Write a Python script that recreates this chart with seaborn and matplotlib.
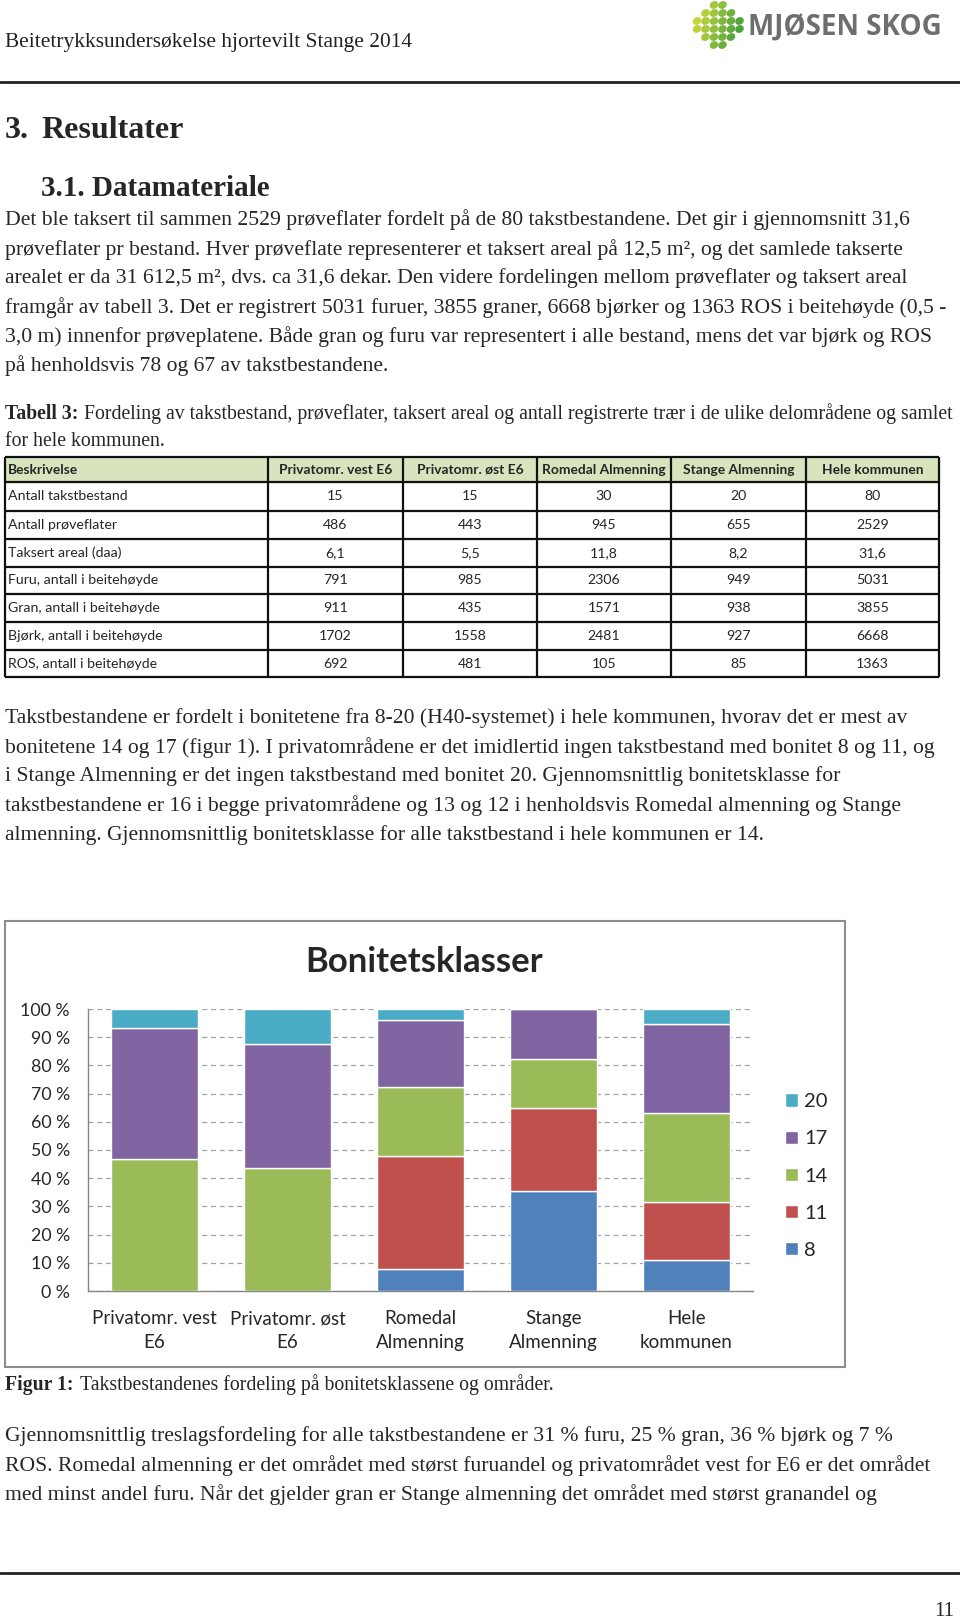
import matplotlib
matplotlib.use("Agg")
import matplotlib.pyplot as plt
import seaborn as sns
import numpy as np
from matplotlib.patches import Rectangle, Ellipse
from matplotlib.colors import to_rgb

# --- Figur 1: andel takstbestand per bonitetsklasse (%) ---
areas = ["Privatomr. vest\nE6", "Privatomr. øst\nE6", "Romedal\nAlmenning",
         "Stange\nAlmenning", "Hele\nkommunen"]
bonitet_classes = ["8", "11", "14", "17", "20"]
share_8 = [0, 0, 7.9, 35.3, 10.9]
share_11 = [0, 0, 40.0, 29.7, 20.5]
share_14 = [46.7, 43.7, 24.3, 17.4, 31.6]
share_17 = [46.6, 43.9, 23.8, 17.6, 31.7]
share_20 = [6.7, 12.4, 4.0, 0, 5.3]
class_colors = ["#4f81bd", "#c0504d", "#9bbb59", "#8064a2", "#4bacc6"]

# --- Tabell 3 ---
table_header = ["Beskrivelse", "Privatomr. vest E6", "Privatomr. øst E6",
                "Romedal Almenning", "Stange Almenning", "Hele kommunen"]
row_names = ["Antall takstbestand", "Antall prøveflater", "Taksert areal (daa)",
             "Furu, antall i beitehøyde", "Gran, antall i beitehøyde",
             "Bjørk, antall i beitehøyde", "ROS, antall i beitehøyde"]
takstbestand = ["15", "15", "30", "20", "80"]
proveflater = ["486", "443", "945", "655", "2529"]
areal_daa = ["6,1", "5,5", "11,8", "8,2", "31,6"]
furu = ["791", "985", "2306", "949", "5031"]
gran = ["911", "435", "1571", "938", "3855"]
bjork = ["1702", "1558", "2481", "927", "6668"]
ros = ["692", "481", "105", "85", "1363"]

# --- page text ---
header_text = "Beitetrykksundersøkelse hjortevilt Stange 2014"
para1 = [
    "Det ble taksert til sammen 2529 prøveflater fordelt på de 80 takstbestandene. Det gir i gjennomsnitt 31,6",
    "prøveflater pr bestand. Hver prøveflate representerer et taksert areal på 12,5 m², og det samlede takserte",
    "arealet er da 31 612,5 m², dvs. ca 31,6 dekar. Den videre fordelingen mellom prøveflater og taksert areal",
    "framgår av tabell 3. Det er registrert 5031 furuer, 3855 graner, 6668 bjørker og 1363 ROS i beitehøyde (0,5 -",
    "3,0 m) innenfor prøveplatene. Både gran og furu var representert i alle bestand, mens det var bjørk og ROS",
    "på henholdsvis 78 og 67 av takstbestandene.",
]
table_caption = ["Fordeling av takstbestand, prøveflater, taksert areal og antall registrerte trær i de ulike delområdene og samlet",
                 "for hele kommunen."]
para2 = [
    "Takstbestandene er fordelt i bonitetene fra 8-20 (H40-systemet) i hele kommunen, hvorav det er mest av",
    "bonitetene 14 og 17 (figur 1). I privatområdene er det imidlertid ingen takstbestand med bonitet 8 og 11, og",
    "i Stange Almenning er det ingen takstbestand med bonitet 20. Gjennomsnittlig bonitetsklasse for",
    "takstbestandene er 16 i begge privatområdene og 13 og 12 i henholdsvis Romedal almenning og Stange",
    "almenning. Gjennomsnittlig bonitetsklasse for alle takstbestand i hele kommunen er 14.",
]
para3 = [
    "Gjennomsnittlig treslagsfordeling for alle takstbestandene er 31 % furu, 25 % gran, 36 % bjørk og 7 %",
    "ROS. Romedal almenning er det området med størst furuandel og privatområdet vest for E6 er det området",
    "med minst andel furu. Når det gjelder gran er Stange almenning det området med størst granandel og",
]

sns.set_style("white")
plt.rcParams['font.family'] = ['Lato', 'DejaVu Sans']

W, H = 960, 1622
fig = plt.figure(figsize=(W / 100, H / 100), dpi=100)
fig.patch.set_facecolor("white")
renderer = fig.canvas.get_renderer()

# page layer in pixel coordinates
page = fig.add_axes([0, 0, 1, 1])
page.set_xlim(0, W)
page.set_ylim(H, 0)
page.set_axis_off()

serif = ['Liberation Serif', 'DejaVu Serif']
body_size = 15.6
caption_size = 14.2


def bold_lead(y, lead, rest, size):
    t = page.text(5, y, lead, family=serif, fontweight="bold", fontsize=size, va="center")
    x_end = t.get_window_extent(renderer).x1
    page.text(x_end + 6, y, rest, family=serif, fontsize=size, va="center")


page.text(5, 43, header_text, family=serif, fontsize=15.4, va="center", color="#222222")
page.plot([0, W], [82, 82], color="#222222", lw=2)

# logo
logo_green_a = np.array(to_rgb("#d2dc3a"))
logo_green_b = np.array(to_rgb("#3e9a3c"))
for i in range(6):
    for j in range(6):
        px = 697 + i * 8.5
        py = 5 + j * 8.0
        if (px - 718) ** 2 + (py - 25) ** 2 > 23 ** 2:
            continue
        t = min(1, max(0, (i + 0.3 * j) / 6.5))
        page.add_patch(Ellipse((px, py), 7.5, 6, angle=-30,
                               color=logo_green_a * (1 - t) + logo_green_b * t))
page.text(748, 28, "MJØSEN SKOG", family=['Open Sans', 'DejaVu Sans'], fontweight="bold",
          fontsize=20, color="#6d6e71", va="center", ha="left")

page.text(5, 131, "3.", family=serif, fontweight="bold", fontsize=23, va="center")
page.text(41, 131, "Resultater", family=serif, fontweight="bold", fontsize=23, va="center")
page.text(41, 188, "3.1. Datamateriale", family=serif, fontweight="bold", fontsize=21, va="center")

for k, line in enumerate(para1):
    page.text(5, 220 + k * 29.2, line, family=serif, fontsize=body_size, va="center")

bold_lead(414, "Tabell 3:", table_caption[0], caption_size)
page.text(5, 442, table_caption[1], family=serif, fontsize=caption_size, va="center")

# table 3
col_edges = [5, 268, 403, 537, 671, 806, 939]
row_edges = [457, 482, 511, 539, 567, 594, 622, 650, 677]
page.add_patch(Rectangle((col_edges[0], row_edges[0]), col_edges[-1] - col_edges[0],
                         row_edges[1] - row_edges[0], color="#d7e4bd", zorder=0))
for c, name in enumerate(table_header):
    cx = col_edges[0] + 3 if c == 0 else (col_edges[c] + col_edges[c + 1]) / 2
    page.text(cx, (row_edges[0] + row_edges[1]) / 2, name, fontsize=9.9, fontweight="bold",
              ha="left" if c == 0 else "center", va="center")
table_rows = [takstbestand, proveflater, areal_daa, furu, gran, bjork, ros]
for r, (name, vals) in enumerate(zip(row_names, table_rows)):
    cy = (row_edges[r + 1] + row_edges[r + 2]) / 2
    page.text(col_edges[0] + 3, cy, name, fontsize=10.2, va="center")
    for c, v in enumerate(vals):
        page.text((col_edges[c + 1] + col_edges[c + 2]) / 2, cy, v, fontsize=10.2,
                  ha="center", va="center")
page.hlines(row_edges, col_edges[0], col_edges[-1], color="#111111", lw=1.6)
page.vlines(col_edges, row_edges[0], row_edges[-1], color="#111111", lw=1.6)

for k, line in enumerate(para2):
    page.text(5, 718 + k * 29.2, line, family=serif, fontsize=body_size, va="center")

# chart frame and title
page.add_patch(Rectangle((5, 921), 840, 446, fill=False, ec="#8c8c8c", lw=1.5))
page.text(424, 962, "Bonitetsklasser", fontsize=25, fontweight="bold", ha="center", va="center")

bold_lead(1385, "Figur 1:", "Takstbestandenes fordeling på bonitetsklassene og områder.", caption_size)

for k, line in enumerate(para3):
    page.text(5, 1436 + k * 29.5, line, family=serif, fontsize=body_size, va="center")

page.plot([0, W], [1573, 1573], color="#222222", lw=2)
page.text(954, 1612, "11", family=serif, fontsize=15, ha="right", va="center")

# stacked bar chart
ax = fig.add_axes([88 / W, 1 - 1291 / H, (753 - 88) / W, (1291 - 1009) / H])
shares = [share_8, share_11, share_14, share_17, share_20]
bottoms = np.zeros(len(areas))
for name, vals, col in zip(bonitet_classes, shares, class_colors):
    sns.barplot(x=areas, y=vals, bottom=bottoms, color=col, width=0.65, saturation=1,
                errorbar=None, label=name, ax=ax, zorder=3)
    bottoms = bottoms + np.array(vals)
if ax.get_legend() is not None:
    ax.get_legend().remove()

ax.set_xlim(-0.5, 4.5)
ax.set_ylim(0, 100)
ax.set_yticks(range(0, 101, 10))
ax.set_yticklabels([f"{v} %" for v in range(0, 101, 10)], fontsize=12.8)
ax.set_xticks(range(len(areas)))
ax.set_xticklabels(areas, fontsize=13.5, linespacing=1.5)
ax.set_xticks(np.arange(-0.5, 5, 1), minor=True)
ax.tick_params(axis="x", which="major", length=0, pad=14)
ax.tick_params(axis="x", which="minor", length=6, direction="out", color="#868686")
ax.tick_params(axis="y", length=5, direction="out", color="#868686", pad=8)
ax.yaxis.grid(True, linestyle=(0, (4, 3)), color="#a0a0a0", lw=0.9)
ax.set_axisbelow(True)
for s in ["top", "right"]:
    ax.spines[s].set_visible(False)
for s in ["left", "bottom"]:
    ax.spines[s].set_color("#868686")
    ax.spines[s].set_linewidth(1.0)
ax.set_xlabel("")
ax.set_ylabel("")
ax.patch.set_alpha(0)

handles, labels = ax.get_legend_handles_labels()
fig.legend(handles[::-1], labels[::-1], loc="center left", bbox_to_anchor=(767 / W, 1 - 1176 / H),
           frameon=False, fontsize=14.5, handlelength=0.65, handleheight=0.65,
           handletextpad=0.3, labelspacing=1.0)

fig.savefig("out.png", dpi=100, facecolor="white")
